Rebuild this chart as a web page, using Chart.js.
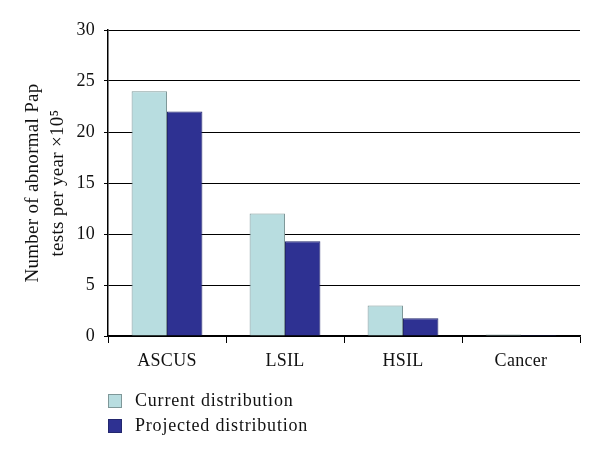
<!DOCTYPE html>
<html>
<head>
<meta charset="utf-8">
<script src="https://cdn.jsdelivr.net/npm/chart.js@4/dist/chart.umd.min.js"></script>
<style>
	body { margin: 0; background: #fff; }
	#wrap { position: relative; width: 600px; height: 456px; }
	#legend {
		position: absolute; left: 108px; top: 388px;
		font-family: "Liberation Serif", serif; font-size: 18px; color: #111;
		letter-spacing: 0.8px;
	}
	#legend div { display: flex; align-items: center; height: 25px; }
	#legend span.box {
		display: inline-block; width: 14px; height: 14px; margin-right: 13px;
		box-sizing: border-box; border: 1px solid;
	}
</style>
</head>
<body>
<div id="wrap">
	<canvas id="chart" width="600" height="456"></canvas>
	<div id="legend"></div>
</div>
<script>
const categories = ["ASCUS", "LSIL", "HSIL", "Cancer"];
const currentValues = [24, 12, 3, 0.15];
const projectedValues = [22, 9.3, 1.75, 0.1];
const seriesNames = ["Current distribution", "Projected distribution"];
const yTitle = ["Number of abnormal Pap", "tests per year \u00d710\u2075"];

const fillColors = ["#b8dde0", "#2e3192"];
const edgeColors = ["#7f9899", "#23276e"];
const serif = "'Liberation Serif', serif";

// the original uses a wider serif, so space the letters a little
const spacingPlugin = {
	id: "spacing",
	beforeDraw: function (chart) {
		chart.ctx.letterSpacing = "0.3px";
	},
};

const config = {
	type: "bar",
	data: {
		labels: categories,
		datasets: [
			{
				label: seriesNames[0],
				data: currentValues,
				backgroundColor: fillColors[0],
				borderColor: edgeColors[0],
				borderWidth: 1,
			},
			{
				label: seriesNames[1],
				data: projectedValues,
				backgroundColor: fillColors[1],
				borderColor: edgeColors[1],
				borderWidth: 1,
			},
		],
	},
	options: {
		responsive: false,
		animation: false,
		datasets: {
			bar: { categoryPercentage: 0.6, barPercentage: 1.0 },
		},
		layout: {
			padding: { left: 0, right: 20, top: 30, bottom: 0 },
		},
		scales: {
			x: {
				grid: {
					offset: true,
					drawOnChartArea: false,
					color: "#000",
					tickLength: 7,
				},
				border: { color: "#000", width: 1.5 },
				ticks: {
					color: "#111",
					font: { family: serif, size: 18 },
					padding: 7,
				},
				afterFit: function (scale) {
					scale.height = 120;
				},
			},
			y: {
				min: 0,
				max: 30,
				ticks: {
					stepSize: 5,
					color: "#111",
					font: { family: serif, size: 18 },
					padding: 9,
				},
				grid: { color: "#000", tickLength: 4 },
				border: { color: "#000", width: 1.5 },
				title: {
					display: true,
					text: yTitle,
					color: "#111",
					font: { family: serif, size: 19, lineHeight: 1.3 },
					padding: { top: 21, bottom: 0 },
				},
				afterFit: function (scale) {
					scale.width = 108;
				},
			},
		},
		plugins: {
			legend: { display: false },
			tooltip: { enabled: false },
		},
	},
	plugins: [spacingPlugin],
};

const ctx = document.getElementById("chart").getContext("2d");
const myChart = new Chart(ctx, config);

const legend = document.getElementById("legend");
seriesNames.forEach(function (name, i) {
	const row = document.createElement("div");
	const box = document.createElement("span");
	box.className = "box";
	box.style.background = fillColors[i];
	box.style.borderColor = edgeColors[i];
	row.appendChild(box);
	row.appendChild(document.createTextNode(name));
	legend.appendChild(row);
});
</script>
</body>
</html>
